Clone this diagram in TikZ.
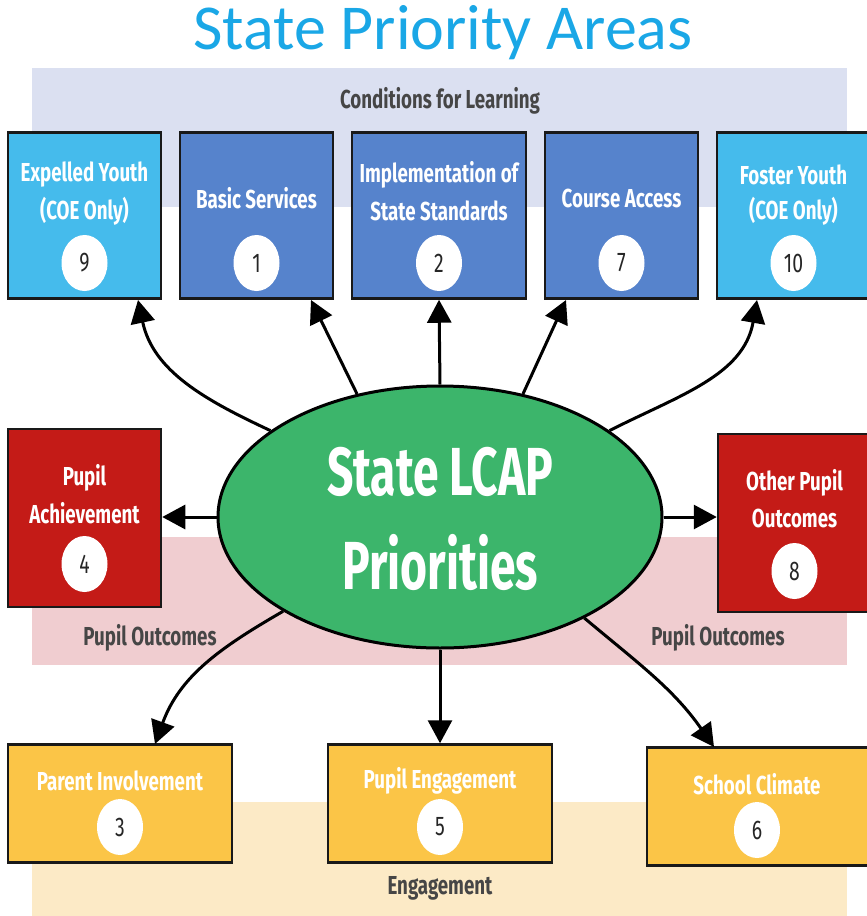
\documentclass[tikz,border=0pt]{standalone}
\usepackage{fontspec}
\setmainfont{Fira Sans}
\newfontfamily\cond[FakeStretch=0.72]{Fira Sans}
\newfontfamily\condx[FakeStretch=0.68]{Fira Sans}
\newfontfamily\titlefont{Carlito}
\usetikzlibrary{arrows.meta,shapes.geometric}
\definecolor{ltblue}{HTML}{45BBEC}
\definecolor{midblue}{HTML}{5683CC}
\definecolor{boxred}{HTML}{C41B17}
\definecolor{boxyel}{HTML}{FBC547}
\definecolor{ellgreen}{HTML}{3CB56B}
\definecolor{bandlav}{HTML}{DBE0F1}
\definecolor{bandpink}{HTML}{F0CDD0}
\definecolor{bandcream}{HTML}{FCEAC6}
\definecolor{titleblue}{HTML}{1AA7E6}
\definecolor{bandtext}{HTML}{464646}
\begin{document}
\begin{tikzpicture}[x=1pt,y=-1pt,
  box/.style={draw=black!90, line width=2.5pt, rectangle, inner sep=0pt,
              minimum width=153pt, minimum height=166pt},
  wbox/.style={box, minimum width=224pt, minimum height=118pt},
  rbox/.style={box, minimum height=178pt, fill=boxred},
  lbl/.style={text=white, inner sep=0pt, font=\cond\bfseries\fontsize{26}{30}\selectfont},
  num/.style={ellipse, fill=white, minimum width=46pt, minimum height=56pt, inner sep=0pt,
              text=black!85, font=\cond\fontsize{27}{30}\selectfont},
  bandlbl/.style={text=bandtext, inner sep=0pt, font=\cond\bfseries\fontsize{26}{30}\selectfont},
  arr/.style={line width=3pt, -{Triangle[length=23pt,width=24pt]}}
]
\useasboundingbox (0,0) rectangle (867,916);
% title
\node[text=titleblue, font=\titlefont\fontsize{64}{70}\selectfont, inner sep=0pt] (title) at (443,33) {State Priority Areas};
% bands
\fill[bandlav] (32,68) rectangle (847,207);
\fill[bandpink] (32,537) rectangle (847,665);
\fill[bandcream] (32,802) rectangle (847,916);
\node[bandlbl] (lcond) at (440,101) {Conditions for Learning};
\node[bandlbl] (lpo1) at (150,638) {Pupil Outcomes};
\node[bandlbl] (lpo2) at (718,638) {Pupil Outcomes};
\node[bandlbl] (leng) at (440,888) {Engagement};
% top boxes
\node[box, fill=ltblue] (b9) at (84.5,215.5) {};
\node[box, fill=midblue] (b1) at (256.5,215.5) {};
\node[box, fill=midblue, minimum width=174pt] (b2) at (439,215.5) {};
\node[box, fill=midblue] (b7) at (621.5,215.5) {};
\node[box, fill=ltblue] (b10) at (793.5,215.5) {};
\node[lbl] (t9a) at (84.5,175) {Expelled Youth};
\node[lbl] (t9b) at (84.5,211) {(COE Only)};
\node[num] (n9) at (84.5,263) {9};
\node[lbl] (t1) at (256.5,198) {Basic Services};
\node[num] (n1) at (256.5,263) {1};
\node[lbl] (t2a) at (439,175) {Implementation of};
\node[lbl] (t2b) at (439,211) {State Standards};
\node[num] (n2) at (439,263) {2};
\node[lbl] (t7) at (621.5,198) {Course Access};
\node[num] (n7) at (621.5,263) {7};
\node[lbl] (t10a) at (793.5,175) {Foster Youth};
\node[lbl] (t10b) at (793.5,211) {(COE Only)};
\node[num] (n10) at (793.5,263) {10};
% side boxes
\node[rbox] (b4) at (84.5,518) {};
\node[rbox] (b8) at (794.5,523) {};
\node[lbl] (t4a) at (84.5,478) {Pupil};
\node[lbl] (t4b) at (84.5,513) {Achievement};
\node[num] (n4) at (84.5,564) {4};
\node[lbl] (t8a) at (794.5,483) {Other Pupil};
\node[lbl] (t8b) at (794.5,518) {Outcomes};
\node[num] (n8) at (794.5,571) {8};
% bottom boxes
\node[wbox, fill=boxyel] (b3) at (120,803.5) {};
\node[wbox, fill=boxyel] (b5) at (440,803.5) {};
\node[wbox, fill=boxyel] (b6) at (759,806.5) {};
\node[lbl] (t3) at (120,781) {Parent Involvement};
\node[num] (n3) at (120,827) {3};
\node[lbl] (t5) at (440,781) {Pupil Engagement};
\node[num] (n5) at (440,827) {5};
\node[lbl] (t6) at (757,784) {School Climate};
\node[num] (n6) at (757,830) {6};
% central ellipse
\node[ellipse, draw=black, line width=3pt, fill=ellgreen, inner sep=0pt,
      minimum width=444pt, minimum height=262pt] (E) at (440,517) {};
\node[text=white, inner sep=0pt, font=\condx\bfseries\fontsize{68}{78}\selectfont] (et1) at (440,472) {State LCAP};
\node[text=white, inner sep=0pt, font=\condx\bfseries\fontsize{68}{78}\selectfont] (et2) at (440,562) {Priorities};
% arrow tips
\coordinate (a9) at (138,300);
\coordinate (a1) at (311,300);
\coordinate (a7) at (566,300);
\coordinate (a10) at (757,300);
\coordinate (a3) at (155,744);
\coordinate (a6) at (714,747);
% arrows
\draw[arr] (E.153) to[out=155,in=-78] (a9);
\draw[arr] (E.124) -- (a1);
\draw[arr] (E.north) -- (b2.south);
\draw[arr] (E.56) -- (a7);
\draw[arr] (E.27) to[out=27,in=-100] (a10);
\draw[arr] (E.west) -- (E.west -| b4.east);
\draw[arr] (E.east) -- (E.east -| b8.west);
\draw[arr] (E.211) to[out=210,in=70] (a3);
\draw[arr] (E.south) -- (b5.north);
\draw[arr] (E.325) to[out=-40,in=125] (a6);
\end{tikzpicture}
\end{document}
